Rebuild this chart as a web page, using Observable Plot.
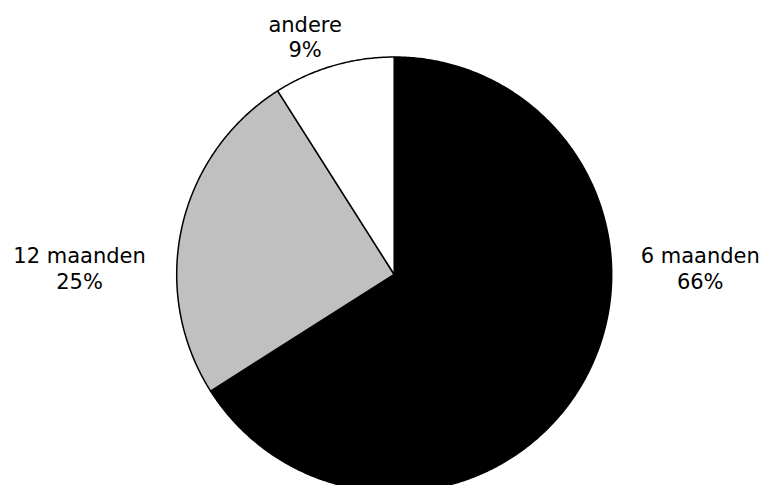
<!DOCTYPE html>
<html><head><meta charset="utf-8">
<script src="https://cdn.jsdelivr.net/npm/d3@7"></script>
<script src="https://cdn.jsdelivr.net/npm/@observablehq/plot@0.6"></script>
<style>html,body{margin:0;padding:0;background:#fff;overflow:hidden}</style>
</head><body><div id="chart"></div>
<script>
// ---- data ----
const categories = ["6 maanden", "12 maanden", "andere"];
const shares = [66, 25, 9];
const percentLabels = ["66%", "25%", "9%"];

// ---- layout / style ----
const W = 762, H = 485;
const cx = 393.7, cy = 274, R = 217.5;
const sliceColors = ["#000000", "#c0c0c0", "#ffffff"];
const fontSize = 21;

const total = d3.sum(shares);
let acc = 0;
const slices = categories.map((c, i) => {
  const a0 = acc / total * 2 * Math.PI; acc += shares[i];
  const a1 = acc / total * 2 * Math.PI;
  return {c, i, a0, a1, mid: (a0 + a1) / 2};
});

// slice outlines in pie units (radius 1, y downward)
const polys = slices.map(s => {
  const n = Math.max(2, Math.ceil((s.a1 - s.a0) / (Math.PI / 360)));
  const pts = [{x: 0, y: 0}];
  for (let k = 0; k <= n; k++) {
    const a = s.a0 + (s.a1 - s.a0) * k / n;
    pts.push({x: Math.sin(a), y: -Math.cos(a)});
  }
  pts.push({x: 0, y: 0});
  return pts;
});

// label placement from slice mid-angles
const labels = slices.map(s => {
  const sx = Math.sin(s.mid), sy = -Math.cos(s.mid);
  const text = categories[s.i] + "\n" + percentLabels[s.i];
  const chars = Math.max(categories[s.i].length, percentLabels[s.i].length);
  const half = chars * 0.63 * fontSize / 2;
  if (Math.abs(sx) > 0.7) {
    const side = Math.sign(sx);
    return {text, side: true, x: side * (1 + (30 + half) / R), y: 0};
  }
  const d = 1.138;
  return {text, side: false, x: sx * d, y: sy * d};
});

const marks = polys.map((p, i) =>
  Plot.line(p, {x: "x", y: "y", fill: sliceColors[i], stroke: "#000", strokeWidth: 1.5, strokeLinejoin: "round"})
);
marks.push(Plot.text(labels.filter(l => l.side), {x: "x", y: "y", text: "text", dx: -1, dy: -7, fontSize, lineHeight: 1.25, fill: "#000"}));
marks.push(Plot.text(labels.filter(l => !l.side), {x: "x", y: "y", text: "text", dx: -20, fontSize, lineHeight: 1.2, fill: "#000"}));

const chart = Plot.plot({
  width: W, height: H,
  margin: 0,
  style: {fontFamily: "'DejaVu Sans', Verdana, sans-serif", background: "#fff"},
  x: {domain: [-cx / R, (W - cx) / R], range: [0, W], axis: null},
  y: {domain: [-cy / R, (H - cy) / R], range: [0, H], axis: null},
  marks
});
document.getElementById("chart").appendChild(chart);
</script>
</body></html>
